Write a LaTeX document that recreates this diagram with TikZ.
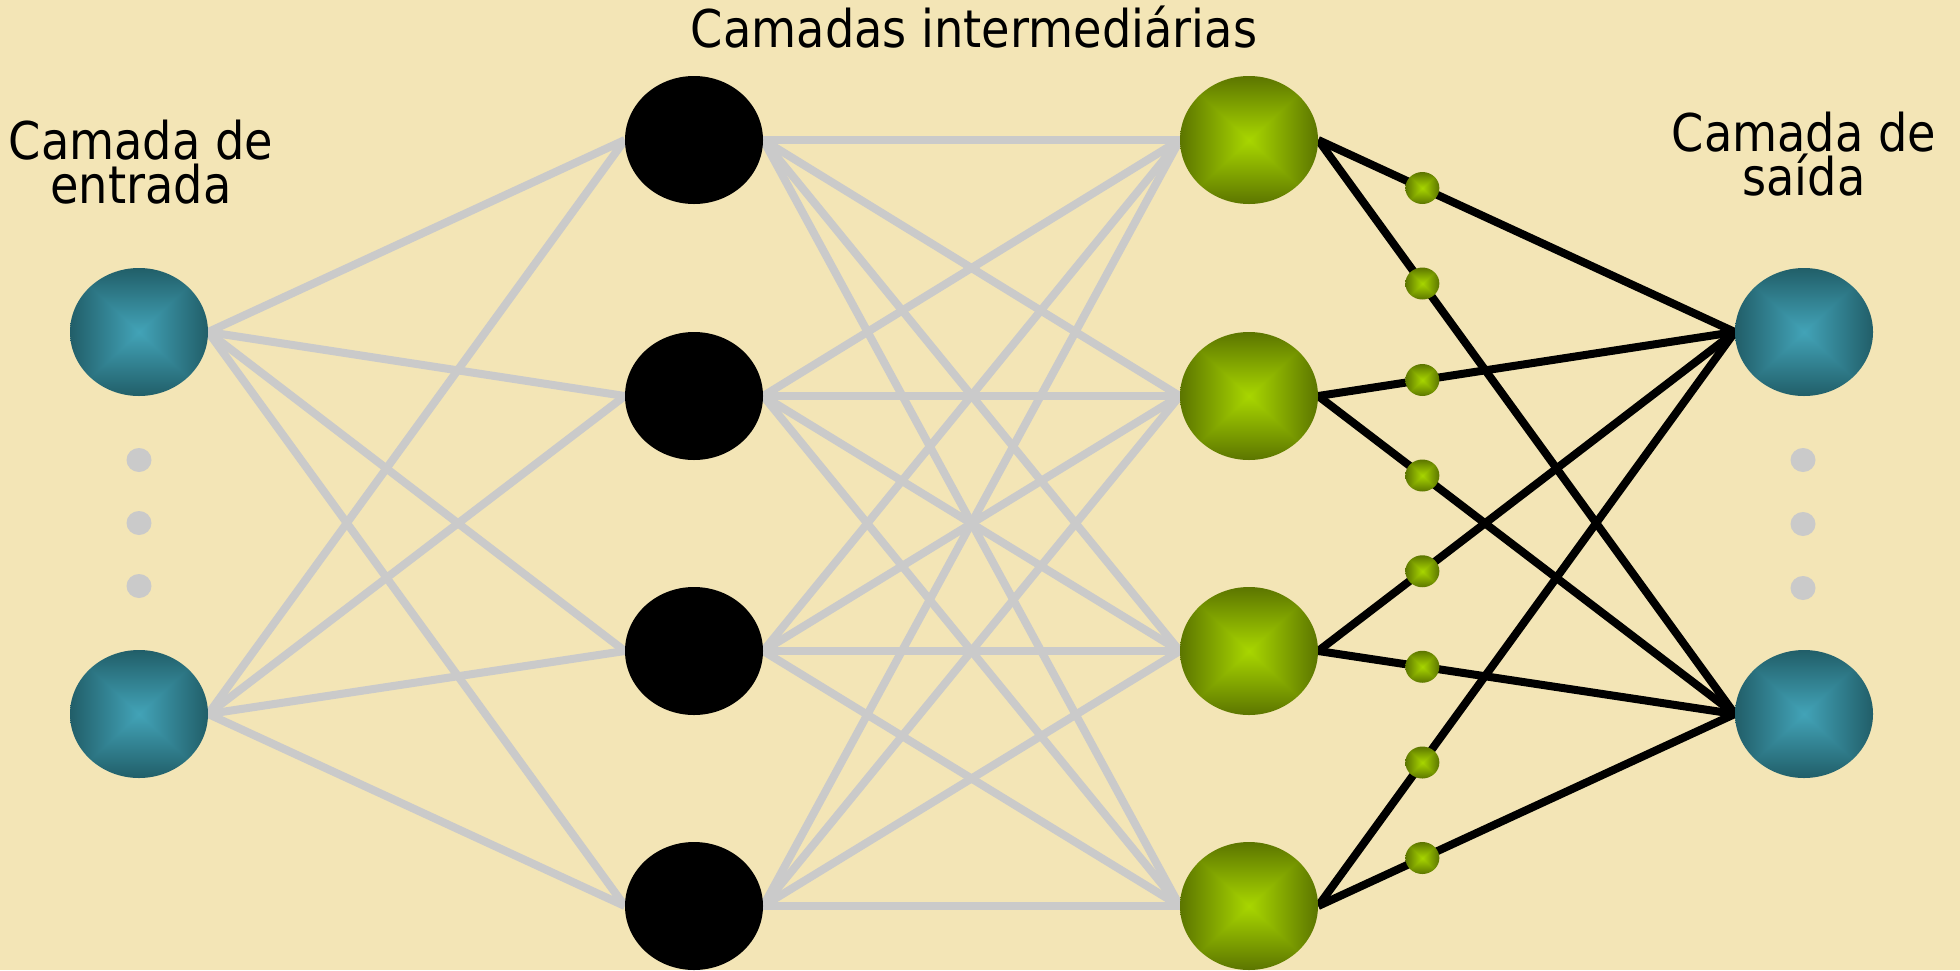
\documentclass[tikz,border=0pt]{standalone}
\usepackage{fontspec}
\setmainfont{DejaVu Sans}[FakeStretch=0.89]
\usetikzlibrary{shapes.geometric,backgrounds}

% "Pyramid" shadings: brightness falls off with max(|x|,|y|),
% the path's bounding box covers the central -25bp..25bp square.
\pgfdeclarefunctionalshading{tealball}{\pgfpoint{-50bp}{-50bp}}{\pgfpoint{50bp}{50bp}}{}{
  abs exch abs 2 copy lt {exch} if pop 25 div dup 1 gt {pop 1} if
  dup -0.13 mul 0.26 add exch
  dup -0.27 mul 0.64 add exch
  -0.31 mul 0.72 add
}
\pgfdeclarefunctionalshading{greenball}{\pgfpoint{-50bp}{-50bp}}{\pgfpoint{50bp}{50bp}}{}{
  abs exch abs 2 copy lt {exch} if pop 25 div dup 1 gt {pop 1} if
  dup -0.30 mul 0.66 add exch
  dup -0.38 mul 0.84 add exch
  pop 0.0
}

\definecolor{paper}{RGB}{243,229,182}
\definecolor{wire}{RGB}{202,202,202}

\begin{document}
\begin{tikzpicture}[x=1pt,y=-1pt,
  neuron/.style={ellipse,minimum width=138pt,minimum height=128pt,inner sep=0pt,draw=none},
  inunit/.style={neuron,shading=tealball},
  hidunit/.style={neuron,fill=black},
  greenunit/.style={neuron,shading=greenball},
  weightdot/.style={ellipse,minimum width=34pt,minimum height=32pt,inner sep=0pt,draw=none,shading=greenball},
  moredot/.style={ellipse,minimum width=25pt,minimum height=24pt,inner sep=0pt,draw=none,fill=wire},
  graywire/.style={draw=wire,line width=8pt},
  blackwire/.style={draw=black,line width=8pt},
  label/.style={font=\fontsize{52}{44}\selectfont,align=center,anchor=base,inner sep=0pt}
]
\useasboundingbox (0,0) rectangle (1960,970);

% input layer
\node[inunit] (in1) at (139,332) {};
\node[inunit] (in2) at (139,714) {};
% first hidden layer
\node[hidunit] (ha1) at (694,140) {};
\node[hidunit] (ha2) at (694,396) {};
\node[hidunit] (ha3) at (694,651) {};
\node[hidunit] (ha4) at (694,906) {};
% second hidden layer
\node[greenunit] (hb1) at (1249,140) {};
\node[greenunit] (hb2) at (1249,396) {};
\node[greenunit] (hb3) at (1249,651) {};
\node[greenunit] (hb4) at (1249,906) {};
% output layer
\node[inunit] (out1) at (1804,332) {};
\node[inunit] (out2) at (1804,714) {};

% ellipsis dots
\node[moredot] (ia) at (139,460) {};
\node[moredot] (ib) at (139,523) {};
\node[moredot] (ic) at (139,586) {};
\node[moredot] (oa) at (1803,460) {};
\node[moredot] (ob) at (1803,524) {};
\node[moredot] (oc) at (1803,588) {};

% labels (base anchor sits on the last line)
\node[label] (ttl) at (974,47) {Camadas intermediárias};
\node[label] (lin) at (141,203) {Camada de\\entrada};
\node[label] (lout) at (1804,195) {Camada de\\saída};

\begin{scope}[on background layer]
  \fill[paper] (0,0) rectangle (1960,970);
  % input -> first hidden
  \foreach \i in {1,2}
    \foreach \j in {1,...,4}
      \draw[graywire] (in\i.east) -- (ha\j.west);
  % first hidden -> second hidden
  \foreach \i in {1,...,4}
    \foreach \j in {1,...,4}
      \draw[graywire] (ha\i.east) -- (hb\j.west);
  % second hidden -> output, with weight dots
  \draw[blackwire] (hb1.east) -- node[weightdot,pos=0.25] (w1) {} (out1.west);
  \draw[blackwire] (hb1.east) -- node[weightdot,pos=0.25] (w2) {} (out2.west);
  \draw[blackwire] (hb2.east) -- node[weightdot,pos=0.25] (w3) {} (out1.west);
  \draw[blackwire] (hb2.east) -- node[weightdot,pos=0.25] (w4) {} (out2.west);
  \draw[blackwire] (hb3.east) -- node[weightdot,pos=0.25] (w5) {} (out1.west);
  \draw[blackwire] (hb3.east) -- node[weightdot,pos=0.25] (w6) {} (out2.west);
  \draw[blackwire] (hb4.east) -- node[weightdot,pos=0.25] (w7) {} (out1.west);
  \draw[blackwire] (hb4.east) -- node[weightdot,pos=0.25] (w8) {} (out2.west);
\end{scope}
\end{tikzpicture}
\end{document}
